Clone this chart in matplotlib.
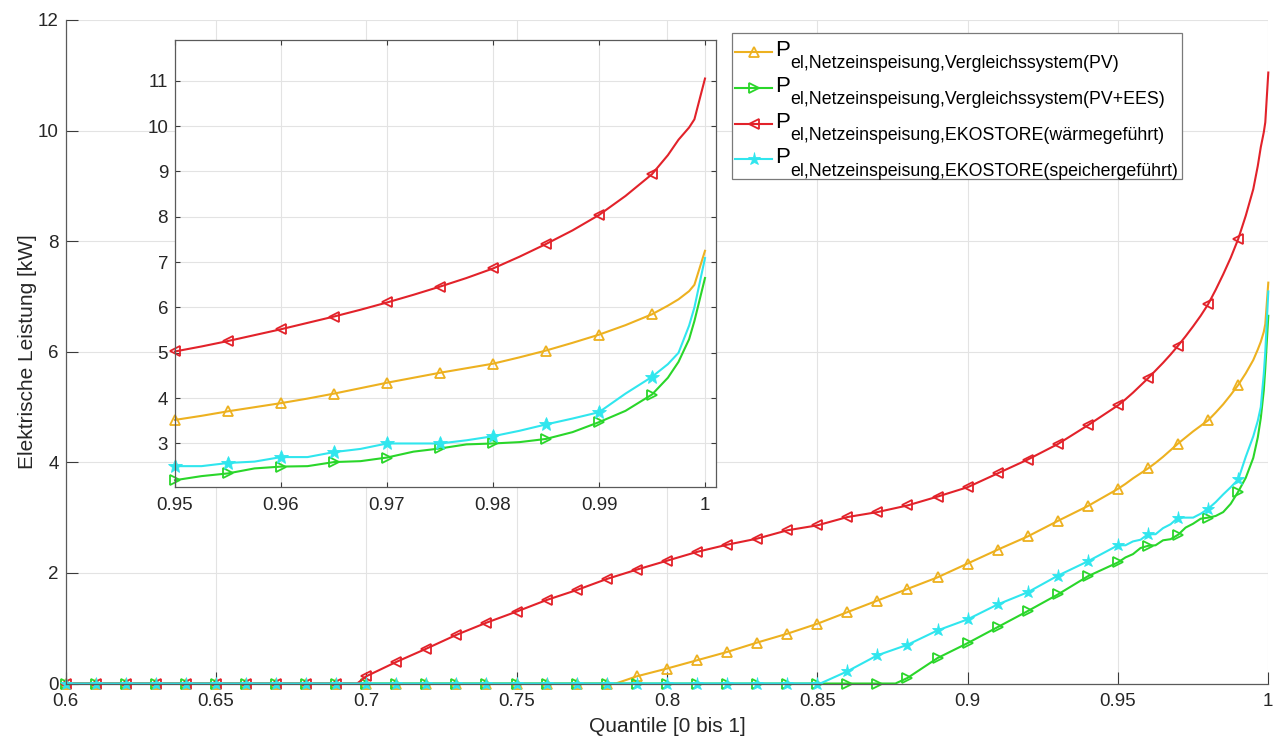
import numpy as np
import matplotlib
matplotlib.use("Agg")
import matplotlib.pyplot as plt
from matplotlib.lines import Line2D
from matplotlib.patches import Rectangle
from matplotlib.ticker import FuncFormatter

plt.rcParams['font.family'] = ['Liberation Sans', 'DejaVu Sans']

# quantile grid, coarse part (0.60 .. 0.94) and fine tail (0.95 .. 1.0)
q_main = np.round(np.arange(0.60, 0.945, 0.01), 2)
q_fine = [0.95, 0.9525, 0.955, 0.9575, 0.96, 0.9625, 0.965, 0.9675, 0.97, 0.9725,
          0.975, 0.9775, 0.98, 0.9825, 0.985, 0.9875, 0.99, 0.9925, 0.995, 0.9965,
          0.9975, 0.9985, 0.999, 1.0]

# P_el,Netzeinspeisung,Vergleichssystem(PV)
pv_onset = 0.783
pv_main = [0, 0, 0, 0, 0, 0, 0, 0, 0, 0, 0, 0, 0, 0, 0, 0, 0, 0, 0,
           0.13, 0.27, 0.42, 0.57, 0.74, 0.90, 1.08, 1.29, 1.50, 1.71, 1.92, 2.17,
           2.42, 2.66, 2.94, 3.21]
pv_fine = [3.52, 3.61, 3.71, 3.80, 3.89, 3.99, 4.10, 4.22, 4.34, 4.45, 4.56, 4.66,
           4.76, 4.90, 5.05, 5.22, 5.40, 5.61, 5.85, 6.04, 6.18, 6.36, 6.50, 7.25]

# P_el,Netzeinspeisung,Vergleichssystem(PV+EES)
ees_onset = 0.876
ees_main = [0, 0, 0, 0, 0, 0, 0, 0, 0, 0, 0, 0, 0, 0, 0, 0, 0, 0, 0, 0, 0, 0, 0, 0,
            0, 0, 0, 0, 0.10, 0.46, 0.73, 1.02, 1.31, 1.61, 1.94]
ees_fine = [2.19, 2.28, 2.34, 2.45, 2.49, 2.50, 2.59, 2.61, 2.69, 2.82, 2.89, 2.98,
            3.00, 3.03, 3.10, 3.25, 3.47, 3.72, 4.08, 4.45, 4.80, 5.30, 5.70, 6.65]

# P_el,Netzeinspeisung,EKOSTORE(waermegefuehrt)
wg_onset = 0.697
wg_main = [0, 0, 0, 0, 0, 0, 0, 0, 0, 0,
           0.13, 0.39, 0.63, 0.88, 1.10, 1.30, 1.51, 1.69, 1.89, 2.06, 2.22, 2.38,
           2.51, 2.62, 2.77, 2.86, 3.01, 3.10, 3.22, 3.38, 3.55, 3.80, 4.05, 4.33, 4.67]
wg_fine = [5.03, 5.14, 5.26, 5.39, 5.52, 5.66, 5.80, 5.95, 6.11, 6.28, 6.46, 6.65,
           6.86, 7.12, 7.40, 7.70, 8.04, 8.46, 8.94, 9.36, 9.70, 9.97, 10.15, 11.05]

# P_el,Netzeinspeisung,EKOSTORE(speichergefuehrt)
sg_onset = 0.851
sg_main = [0, 0, 0, 0, 0, 0, 0, 0, 0, 0, 0, 0, 0, 0, 0, 0, 0, 0, 0, 0, 0, 0, 0, 0,
           0, 0, 0.22, 0.51, 0.70, 0.96, 1.16, 1.43, 1.65, 1.95, 2.21]
sg_fine = [2.50, 2.50, 2.57, 2.60, 2.70, 2.70, 2.81, 2.88, 3.00, 3.00, 3.00, 3.07,
           3.16, 3.28, 3.42, 3.55, 3.69, 4.10, 4.47, 4.75, 5.00, 5.60, 6.00, 7.09]

subs = ['el,Netzeinspeisung,Vergleichssystem(PV)',
        'el,Netzeinspeisung,Vergleichssystem(PV+EES)',
        'el,Netzeinspeisung,EKOSTORE(wärmegeführt)',
        'el,Netzeinspeisung,EKOSTORE(speichergeführt)']

colors = ['#EDB120', '#2AD62A', '#E2222A', '#30E6EE']
markers = ['^', '>', '<', '*']


def build(onset, main, fine):
    x = np.concatenate([q_main, [onset], q_fine])
    y = np.concatenate([main, [0.0], fine])
    o = np.argsort(x, kind='stable')
    return x[o], y[o]


series = [build(pv_onset, pv_main, pv_fine),
          build(ees_onset, ees_main, ees_fine),
          build(wg_onset, wg_main, wg_fine),
          build(sg_onset, sg_main, sg_fine)]

W, H = 1277, 738


def fx(px):
    return px / W


def fy(py):
    return 1 - py / H


def mstyle(c, m, big=False):
    if m == '*':
        return dict(marker=m, ms=10 if big else 9.5, mfc=c, mec=c, mew=0.6)
    return dict(marker=m, ms=7 if big else 6.5, mfc='none', mec=c, mew=1.3)


fig = plt.figure(figsize=(W / 100, H / 100), dpi=100)

# main axes
ax = fig.add_axes([fx(65.5), fy(683.5), fx(1268.3) - fx(65.5), fy(20) - fy(683.5)])
for (x, y), c, m in zip(series, colors, markers):
    k = np.round(x * 100, 6)
    mask = (np.abs(k - np.round(k)) < 1e-6) & (x <= 0.99 + 1e-9)
    ax.plot(x, y, color=c, lw=1.5, markevery=list(mask), clip_on=False, **mstyle(c, m))

ax.set_xlim(0.6, 1.0)
ax.set_ylim(0, 12)
ax.set_xticks(np.arange(0.6, 1.001, 0.05))
ax.set_yticks(np.arange(0, 12.1, 2))
ax.xaxis.set_major_formatter(FuncFormatter(lambda v, p: f'{v:g}'))
ax.grid(True, color='#e3e3e3', lw=0.8)
ax.set_axisbelow(True)
for s in ['top', 'right']:
    ax.spines[s].set_visible(False)
for s in ['left', 'bottom']:
    ax.spines[s].set_color('#5a5a5a')
    ax.spines[s].set_linewidth(0.9)
ax.tick_params(direction='in', length=8.5, width=0.8, color='#3a3a3a',
               labelsize=13.5, labelcolor='#262626')
ax.tick_params(axis='x', pad=7)
ax.tick_params(axis='y', pad=5)

fig.text(fx(28), fy(351.7), 'Elektrische Leistung [kW]', rotation=90,
         ha='center', va='center', fontsize=15, color='#262626')
fig.text(fx(667), fy(727), 'Quantile [0 bis 1]', ha='center', va='center',
         fontsize=15, color='#262626')

# inset (zoom on the last 5 %)
axin = fig.add_axes([fx(175), fy(487), fx(716) - fx(175), fy(40) - fy(487)])
axin.set_facecolor('white')
for (x, y), c, m in zip(series, colors, markers):
    keep = x >= 0.95 - 1e-9
    xs, ys = x[keep], y[keep]
    k = np.round(xs * 200, 6)
    mask = (np.abs(k - np.round(k)) < 1e-6) & (xs <= 0.995 + 1e-9)
    axin.plot(xs, ys, color=c, lw=1.5, markevery=list(mask), clip_on=False,
              **mstyle(c, m, big=True))
axin.set_xlim(0.95, 0.95 + (716 - 175) / 10600)
axin.set_ylim(2.04, 11.9)
axin.set_xticks(np.arange(0.95, 1.0001, 0.01))
axin.set_yticks(np.arange(3, 11.1, 1))
axin.xaxis.set_major_formatter(FuncFormatter(lambda v, p: f'{v:g}'))
axin.grid(True, color='#e3e3e3', lw=0.8)
axin.set_axisbelow(True)
for s in axin.spines.values():
    s.set_color('#5a5a5a')
    s.set_linewidth(0.9)
axin.tick_params(direction='in', length=3.8, width=0.8, color='#3a3a3a',
                 labelsize=13.5, labelcolor='#262626', top=True, right=True)
axin.tick_params(axis='x', pad=7)
axin.tick_params(axis='y', pad=5)

# legend, drawn by hand (MATLAB-style subscripts)
fig.patches.append(Rectangle((fx(732), fy(179)), fx(1182) - fx(732), fy(33) - fy(179),
                             transform=fig.transFigure, facecolor='white',
                             edgecolor='#7a7a7a', lw=0.9, zorder=5))
row_y = [51.7, 87.7, 124.0, 159.0]
for ry, c, m, sub in zip(row_y, colors, markers, subs):
    fig.lines.append(Line2D([fx(735), fx(772)], [fy(ry), fy(ry)], transform=fig.transFigure,
                            color=c, lw=1.5, zorder=6))
    fig.lines.append(Line2D([fx(753.5)], [fy(ry)], transform=fig.transFigure, color=c,
                            zorder=6, **mstyle(c, m)))
    fig.text(fx(775), fy(ry + 4), 'P', fontsize=16, color='black', va='baseline', zorder=7)
    fig.text(fx(790), fy(ry + 16.5), sub, fontsize=12.8, color='black', va='baseline', zorder=7)

fig.savefig('out.png', dpi=100)
